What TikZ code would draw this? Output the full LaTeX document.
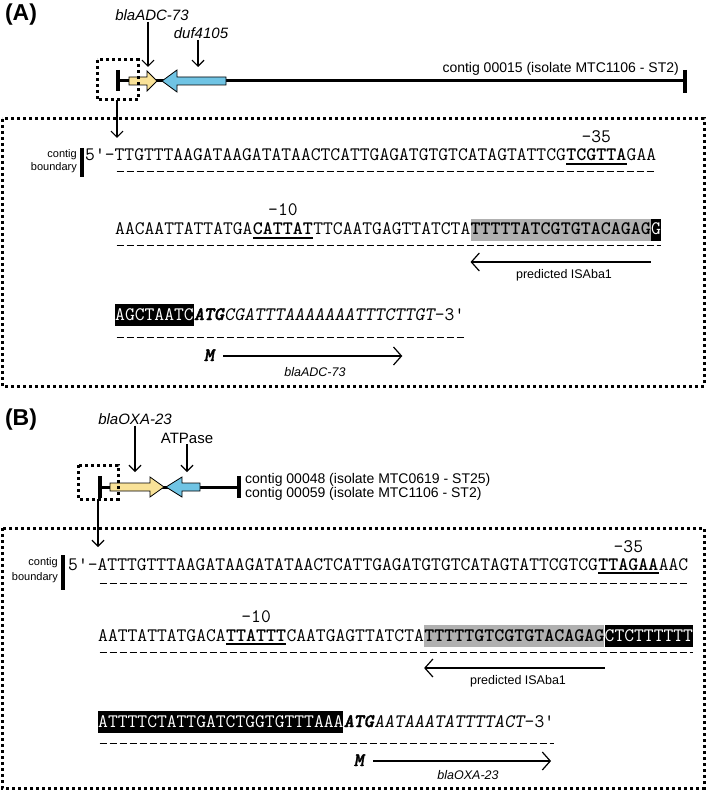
\documentclass[tikz,border=0pt]{standalone}
\usepackage{fontspec}
\setsansfont{Liberation Sans}
\newfontfamily\seqbifont{lmmonolt10-boldoblique.otf}[FakeBold=2]
\usetikzlibrary{arrows.meta,positioning}

\newcommand{\seqsize}{\fontsize{19.05}{22}\selectfont}
\definecolor{geneyellow}{RGB}{249,226,152}
\definecolor{geneblue}{RGB}{112,196,228}
\definecolor{isgray}{RGB}{176,176,176}

\tikzset{
  seqtxt/.style={font=\ttfamily\seqsize, inner sep=0pt, anchor=base west,
    text height=13pt, text depth=3pt},
  seqbold/.style={seqtxt, font=\ttfamily\bfseries\seqsize},
  seqit/.style={seqtxt, font=\ttfamily\slshape\seqsize},
  seqbi/.style={seqtxt, font=\seqbifont\seqsize},
  graybox/.style={seqbold, fill=isgray, inner ysep=3pt},
  blackbox/.style={seqtxt, fill=black, text=white, inner ysep=3pt},
  strand/.style={line width=1pt, dash pattern=on 7pt off 3pt, dash phase=8.5pt},
  uline/.style={line width=1.6pt},
  boxnum/.style={font=\ttfamily\seqsize, inner sep=0pt, anchor=base},
  panel/.style={font=\sffamily\bfseries\fontsize{23}{25}\selectfont, inner sep=0pt},
  genelab/.style={font=\sffamily\itshape\fontsize{15}{17}\selectfont, inner sep=1pt},
  plainlab/.style={font=\sffamily\fontsize{15}{17}\selectfont, inner sep=1pt},
  contiglab/.style={font=\sffamily\fontsize{14}{16}\selectfont, inner sep=0pt, anchor=base west},
  smalllab/.style={font=\sffamily\fontsize{11}{12}\selectfont, inner sep=0pt, anchor=east},
  arrlab/.style={font=\sffamily\fontsize{12.5}{14}\selectfont, inner sep=0pt},
  arrlabit/.style={arrlab, font=\sffamily\itshape\fontsize{12.5}{14}\selectfont},
  pointer/.style={line width=1.2pt, -{Straight Barb[length=6pt,width=12pt]}},
  longarr/.style={line width=1.2pt, -{Straight Barb[length=8pt,width=18pt]}},
  backbone/.style={line width=3pt},
  endtick/.style={line width=3.5pt},
  zoombox/.style={line width=3pt, dash pattern=on 3pt off 3pt},
  gene/.style={line width=0.8pt, line join=miter},
}

\begin{document}
\begin{tikzpicture}[x=1pt,y=-1pt]
\useasboundingbox (0,0) rectangle (708,791);

% (A) contig 00015
\node[panel] (labA) at (21,15) {(A)};
\draw[backbone] (118,81) -- (685,81);
\draw[endtick] (118,70) -- (118,91);
\draw[endtick] (685,70) -- (685,93);
\draw[gene,fill=geneyellow]
    (129,77) -- (147,77) -- (147,71) -- (157,81) -- (147,91) -- (147,85) -- (129,85) -- cycle;
\draw[gene,fill=geneblue]
    (226,77) -- (177,77) -- (177,70) -- (162,81) -- (177,92) -- (177,85) -- (226,85) -- cycle;
\node[genelab] (adc) at (152,15) {blaADC-73};
\coordinate (adcgene) at (148,67);
\draw[pointer] (adc.south -| adcgene) -- (adcgene);
\node[genelab] (duf) at (201,33) {duf4105};
\coordinate (dufgene) at (198,67);
\draw[pointer] (duf.south -| dufgene) -- (dufgene);
\node[contiglab, anchor=base east] (ctgA) at (679,73) {contig 00015 (isolate MTC1106 - ST2)};
\draw[zoombox] (97,60) rectangle (138,100);
\coordinate (zoomA) at (117,100);
\draw[pointer] (zoomA) -- ++(0,38);
\draw[zoombox] (2,119) rectangle (704,386);

% boundary
\node[smalllab] (cbA1) at (77,155) {contig};
\node[smalllab] (cbA2) at (77,168) {boundary};
\draw[endtick] (82,148) -- (82,177);

% line 1
\node[seqtxt] (a1) at (85,161) {5'-TTGTTTAAGATAAGATATAACTCATTGAGATGTGTCATAGTATTCG};
\node[seqbold] (a2) at (a1.base east) {TCGTTA};
\node[seqtxt] (a3) at (a2.base east) {GAA};
\draw[uline] ([yshift=-3pt]a2.base west) -- ([yshift=-3pt]a2.base east);
\node[boxnum] (m35a) at ([yshift=18pt]a2.base) {-35};
\draw[strand] ([xshift=30pt,yshift=-11pt]a1.base west) -- ([yshift=-11pt]a3.base east);

% line 2
\node[seqtxt] (a4) at (115,235) {AACAATTATTATGA};
\node[seqbold] (a5) at (a4.base east) {CATTAT};
\node[seqtxt] (a6) at (a5.base east) {TTCAATGAGTTATCTA};
\node[graybox] (a7) at (a6.base east) {TTTTTATCGTGTACAGAG};
\node[blackbox] (a8) at (a7.base east) {G};
\draw[uline] ([yshift=-3pt]a5.base west) -- ([yshift=-3pt]a5.base east);
\node[boxnum] (m10a) at ([yshift=19pt]a5.base) {-10};
\draw[strand] ([yshift=-11pt]a4.base west) -- ([yshift=-11pt]a8.base east);
\draw[longarr] ([yshift=-27pt]a7.base east) -- ([yshift=-27pt]a7.base west);
\node[arrlab] (isA) at (564,275) {predicted ISAba1};

% line 3
\node[blackbox] (a9) at (115,320) {AGCTAATC};
\node[seqbi] (a10) at (a9.base east) {ATG};
\node[seqit] (a11) at (a10.base east) {CGATTTAAAAAAATTTCTTGT};
\node[seqtxt] (a12) at (a11.base east) {-3'};
\draw[strand] ([yshift=-17pt]a9.base west) -- ([yshift=-17pt]a12.base east);
\node[seqbi, anchor=center] (Ma) at ([yshift=-36pt]a10.base) {M};
\draw[longarr] ([xshift=9pt]Ma.east) -- ([xshift=188pt]Ma.east);
\node[arrlabit] (adcA) at (315,372) {blaADC-73};

% (B) contigs 00048 / 00059
\node[panel] (labB) at (21,420) {(B)};
\draw[backbone] (100,487) -- (239,487);
\draw[endtick] (100,476) -- (100,498);
\draw[endtick] (239,476) -- (239,498);
\draw[gene,fill=geneyellow]
    (110,483) -- (150,483) -- (150,477) -- (164,487) -- (150,497) -- (150,491) -- (110,491) -- cycle;
\draw[gene,fill=geneblue]
    (200,483) -- (182,483) -- (182,477) -- (166,487) -- (182,497) -- (182,491) -- (200,491) -- cycle;
\node[genelab] (oxa) at (135,419) {blaOXA-23};
\coordinate (oxagene) at (135,472);
\draw[pointer] (oxa.south -| oxagene) -- (oxagene);
\node[plainlab] (atp) at (187,438) {ATPase};
\coordinate (atpgene) at (187,472);
\draw[pointer] (atp.south -| atpgene) -- (atpgene);
\node[contiglab] (ctgB1) at (245,483) {contig 00048 (isolate MTC0619 - ST25)};
\node[contiglab] (ctgB2) at (245,497) {contig 00059 (isolate MTC1106 - ST2)};
\draw[zoombox] (78,465) rectangle (118,499);
\coordinate (zoomB) at (98,499);
\draw[pointer] (zoomB) -- ++(0,48);
\draw[zoombox] (2,528) rectangle (704,788);

% boundary
\node[smalllab] (cbB1) at (58,563) {contig};
\node[smalllab] (cbB2) at (58,578) {boundary};
\draw[endtick] (63,555) -- (63,590);

% line 1
\node[seqtxt] (b1) at (68,570) {5'-ATTTGTTTAAGATAAGATATAACTCATTGAGATGTGTCATAGTATTCGTCG};
\node[seqbold] (b2) at (b1.base east) {TTAGAA};
\node[seqtxt] (b3) at (b2.base east) {AAC};
\draw[uline] ([yshift=-3pt]b2.base west) -- ([yshift=-3pt]b2.base east);
\node[boxnum] (m35b) at ([yshift=18pt]b2.base) {-35};
\draw[strand] ([xshift=30pt,yshift=-13pt]b1.base west) -- ([yshift=-13pt]b3.base east);

% line 2
\node[seqtxt] (b4) at (98,641) {AATTATTATGACA};
\node[seqbold] (b5) at (b4.base east) {TTATTT};
\node[seqtxt] (b6) at (b5.base east) {CAATGAGTTATCTA};
\node[graybox] (b7) at (b6.base east) {TTTTTGTCGTGTACAGAG};
\node[blackbox] (b8) at (b7.base east) {CTCTTTTTT};
\draw[uline] ([yshift=-3pt]b5.base west) -- ([yshift=-3pt]b5.base east);
\node[boxnum] (m10b) at ([yshift=19pt]b5.base) {-10};
\draw[strand] ([yshift=-11pt]b4.base west) -- ([yshift=-11pt]b8.base east);
\draw[longarr] ([yshift=-27pt]b7.base east) -- ([yshift=-27pt]b7.base west);
\node[arrlab] (isB) at (518,681) {predicted ISAba1};

% line 3
\node[blackbox] (b9) at (98,727) {ATTTTCTATTGATCTGGTGTTTAAA};
\node[seqbi] (b10) at (b9.base east) {ATG};
\node[seqit] (b11) at (b10.base east) {AATAAATATTTTACT};
\node[seqtxt] (b12) at (b11.base east) {-3'};
\draw[strand] ([yshift=-16pt]b9.base west) -- ([yshift=-16pt]b12.base east);
\node[seqbi, anchor=center] (Mb) at ([yshift=-34pt]b10.base) {M};
\draw[longarr] ([xshift=9pt]Mb.east) -- ([xshift=187pt]Mb.east);
\node[arrlabit] (oxaB) at (468,775) {blaOXA-23};
%\draw[red] (0,0) rectangle (708,791);
\end{tikzpicture}
\end{document}
